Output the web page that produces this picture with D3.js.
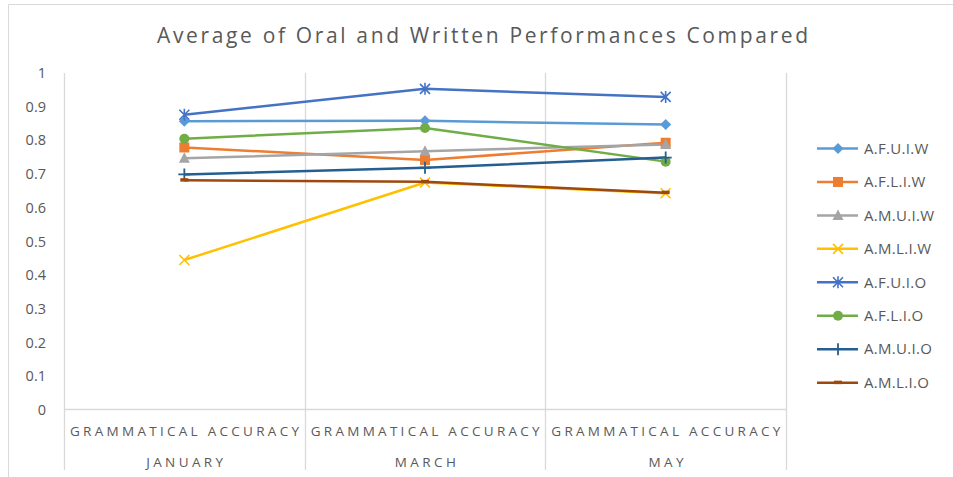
<!DOCTYPE html>
<html>
<head>
<meta charset="utf-8">
<script src="https://cdn.jsdelivr.net/npm/d3@7"></script>
<style>
  body { margin: 0; background: #fff; }
  text { font-family: "Open Sans", "Liberation Sans", sans-serif; fill: #595959; }
</style>
</head>
<body>
<svg id="chart" width="953" height="477"></svg>
<script>
// DATA
const months = ["JANUARY", "MARCH", "MAY"];
const subLabel = "GRAMMATICAL ACCURACY";
const yTicks = [0, 0.1, 0.2, 0.3, 0.4, 0.5, 0.6, 0.7, 0.8, 0.9, 1];

const seriesNames = ["A.F.U.I.W", "A.F.L.I.W", "A.M.U.I.W", "A.M.L.I.W", "A.F.U.I.O", "A.F.L.I.O", "A.M.U.I.O", "A.M.L.I.O"];
const seriesColors = ["#5B9BD5", "#ED7D31", "#A5A5A5", "#FFC000", "#4472C4", "#70AD47", "#255E91", "#9E480E"];
const seriesMarkers = ["diamond", "square", "triangle", "x", "star", "circle", "plus", "dash"];

const afuiw = [0.857, 0.858, 0.847];
const afliw = [0.779, 0.742, 0.793];
const amuiw = [0.747, 0.768, 0.788];
const amliw = [0.445, 0.675, 0.643];
const afuio = [0.876, 0.953, 0.929];
const aflio = [0.805, 0.837, 0.737];
const amuio = [0.699, 0.719, 0.749];
const amlio = [0.682, 0.677, 0.645];
const seriesValues = [afuiw, afliw, amuiw, amliw, afuio, aflio, amuio, amlio];

const svg = d3.select("#chart");

// chart border (only left + top visible in the crop)
svg.append("path")
  .attr("d", "M8.5,477 L8.5,4.5 L953,4.5")
  .attr("fill", "none")
  .attr("stroke", "#d9d9d9")
  .attr("stroke-width", 1);

// TITLE
svg.append("text")
  .attr("x", 157)
  .attr("y", 43)
  .attr("font-size", 21)
  .attr("textLength", 651)
  .attr("lengthAdjust", "spacing")
  .text("Average of Oral and Written Performances Compared");

// SCALES
const x = d3.scaleBand().domain(months).range([64, 786]).padding(0);
const y = d3.scaleLinear().domain([0, 1]).range([410, 73]);

// vertical gridlines at category boundaries (incl. axis)
const edges = months.map((m) => x(m)).concat([x.range()[1]]);
svg.selectAll(".vgrid")
  .data(edges)
  .enter()
  .append("line")
  .attr("class", "vgrid")
  .attr("x1", (d) => Math.round(d) + 0.5)
  .attr("x2", (d) => Math.round(d) + 0.5)
  .attr("y1", 73)
  .attr("y2", 470)
  .attr("stroke", "#d9d9d9")
  .attr("stroke-width", 1.3);

// category axis line
svg.append("line")
  .attr("x1", 64).attr("x2", 786)
  .attr("y1", y(0) - 0.5).attr("y2", y(0) - 0.5)
  .attr("stroke", "#d9d9d9")
  .attr("stroke-width", 1.3);

// Y tick labels
svg.selectAll(".ytick")
  .data(yTicks)
  .enter()
  .append("text")
  .attr("class", "ytick")
  .attr("x", 46)
  .attr("y", (d) => y(d))
  .attr("dy", "0.35em")
  .attr("text-anchor", "end")
  .attr("font-size", 14.5)
  .text((d) => d3.format("")(+d.toFixed(1)));

// category labels (two levels)
svg.selectAll(".sublab")
  .data(months)
  .enter()
  .append("text")
  .attr("class", "sublab")
  .attr("x", (d) => x(d) + 6)
  .attr("y", 436)
  .attr("font-size", 13.5)
  .attr("textLength", 229)
  .attr("lengthAdjust", "spacing")
  .text(subLabel);

svg.selectAll(".monthlab")
  .data(months)
  .enter()
  .append("text")
  .attr("class", "monthlab")
  .attr("x", (d) => x(d) + x.bandwidth() / 2 + 2)
  .attr("y", 467)
  .attr("font-size", 13.5)
  .attr("text-anchor", "middle")
  .attr("letter-spacing", 3.4)
  .text((d) => d);

// MARKERS
function drawMarker(g, type, color) {
  if (type === "diamond") {
    g.append("path").attr("d", "M0,-5.5 L5.5,0 L0,5.5 L-5.5,0 Z").attr("fill", color);
  } else if (type === "square") {
    g.append("rect").attr("x", -5).attr("y", -5).attr("width", 10).attr("height", 10).attr("fill", color);
  } else if (type === "triangle") {
    g.append("path").attr("d", "M0,-6 L5.5,4.5 L-5.5,4.5 Z").attr("fill", color);
  } else if (type === "x") {
    g.append("path").attr("d", "M-5,-5 L5,5 M-5,5 L5,-5").attr("stroke", color).attr("stroke-width", 1.6).attr("fill", "none");
  } else if (type === "star") {
    g.append("path").attr("d", "M-5,-5 L5,5 M-5,5 L5,-5 M0,-6 L0,6").attr("stroke", color).attr("stroke-width", 1.6).attr("fill", "none");
  } else if (type === "circle") {
    g.append("circle").attr("r", 5).attr("fill", color);
  } else if (type === "plus") {
    g.append("path").attr("d", "M0,-6 L0,6 M-6,0 L6,0").attr("stroke", color).attr("stroke-width", 1.8).attr("fill", "none");
  } else if (type === "dash") {
    g.append("rect").attr("x", -4).attr("y", -2).attr("width", 8).attr("height", 3.5).attr("fill", color);
  }
}

// LINES
const line = d3.line()
  .x((d, i) => x(months[i]) + x.bandwidth() / 2)
  .y((d) => y(d));

seriesValues.forEach((vals, si) => {
  svg.append("path")
    .datum(vals)
    .attr("d", line)
    .attr("fill", "none")
    .attr("stroke", seriesColors[si])
    .attr("stroke-width", 2.5)
    .attr("stroke-linejoin", "round");
});

seriesValues.forEach((vals, si) => {
  vals.forEach((v, i) => {
    const g = svg.append("g")
      .attr("transform", `translate(${x(months[i]) + x.bandwidth() / 2},${y(v)})`);
    drawMarker(g, seriesMarkers[si], seriesColors[si]);
  });
});

// LEGEND
const legend = svg.selectAll(".legend")
  .data(seriesNames)
  .enter()
  .append("g")
  .attr("class", "legend")
  .attr("transform", (d, i) => `translate(817,${148.5 + i * 33.45})`);

legend.append("line")
  .attr("x1", 0).attr("x2", 41)
  .attr("stroke", (d, i) => seriesColors[i])
  .attr("stroke-width", 2.5);

legend.each(function (d, i) {
  const g = d3.select(this).append("g").attr("transform", "translate(21,0)");
  drawMarker(g, seriesMarkers[i], seriesColors[i]);
});

legend.append("text")
  .attr("x", 47)
  .attr("dy", "0.35em")
  .attr("font-size", 15)
  .attr("letter-spacing", 0.3)
  .text((d) => d);
</script>
</body>
</html>
